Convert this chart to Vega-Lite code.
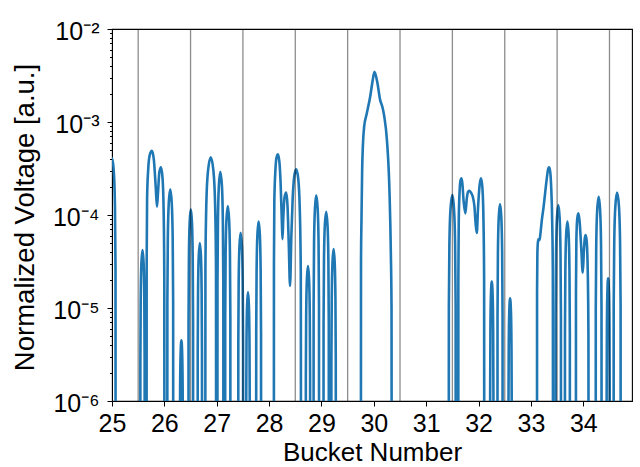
{
  "$schema": "https://vega.github.io/schema/vega-lite/v6.json",
  "width": 520,
  "height": 372,
  "autosize": {"type": "none"},
  "padding": {"left": 112, "top": 29, "right": 8, "bottom": 66},
  "background": "white",
  "config": {
    "font": "Liberation Sans",
    "view": {"stroke": "black", "strokeWidth": 1.1},
    "axis": {"grid": false, "domainColor": "black", "tickColor": "black", "labelColor": "black", "titleColor": "black", "labelFont": "Liberation Sans", "titleFont": "Liberation Sans", "titleFontWeight": "normal"}
  },
  "datasets": {
    "curve": [
      {"x":24.93,"v":3.0e-4},{"x":24.97,"v":3.9e-4},{"x":25.0,"v":4.1e-4},{"x":25.035,"v":2.9e-4},{"x":25.056,"v":1.27e-4},{"x":25.067,"v":2.6e-5},{"x":25.07,"v":1e-9},
      {"x":25.54,"v":1e-9},{"x":25.5417,"v":2.6e-6},{"x":25.5485,"v":1.3e-5},{"x":25.561,"v":3.0e-5},{"x":25.583,"v":4.2e-5},{"x":25.604,"v":3.0e-5},{"x":25.6165,"v":1.3e-5},{"x":25.6233,"v":2.6e-6},{"x":25.625,"v":1e-9},
      {"x":25.66,"v":1e-9},{"x":25.662,"v":3e-5},{"x":25.67,"v":1.5e-4},{"x":25.69,"v":3.0e-4},{"x":25.72,"v":4.4e-4},{"x":25.763,"v":4.9e-4},{"x":25.8,"v":3.9e-4},{"x":25.835,"v":2.0e-4},{"x":25.859,"v":1.23e-4},{"x":25.88,"v":1.8e-4},{"x":25.905,"v":2.9e-4},{"x":25.935,"v":3.26e-4},{"x":25.965,"v":2.5e-4},{"x":25.985,"v":1.2e-4},{"x":25.998,"v":2.5e-5},{"x":26.004,"v":1e-9},
      {"x":26.055,"v":1e-9},{"x":26.0573,"v":1.2e-5},{"x":26.0665,"v":5.9e-5},{"x":26.084,"v":1.34e-4},{"x":26.1125,"v":1.89e-4},{"x":26.141,"v":1.34e-4},{"x":26.1585,"v":5.9e-5},{"x":26.1677,"v":1.2e-5},{"x":26.17,"v":1e-9},
      {"x":26.295,"v":1e-9},{"x":26.2962,"v":2.8e-7},{"x":26.301,"v":1.4e-6},{"x":26.31,"v":3.2e-6},{"x":26.325,"v":4.5e-6},{"x":26.34,"v":3.2e-6},{"x":26.349,"v":1.4e-6},{"x":26.3538,"v":2.8e-7},{"x":26.355,"v":1e-9},
      {"x":26.46,"v":1e-9},{"x":26.4618,"v":7.2e-6},{"x":26.469,"v":3.6e-5},{"x":26.4825,"v":8.2e-5},{"x":26.505,"v":1.15e-4},{"x":26.5275,"v":8.2e-5},{"x":26.541,"v":3.6e-5},{"x":26.5482,"v":7.2e-6},{"x":26.55,"v":1e-9},
      {"x":26.635,"v":1e-9},{"x":26.6367,"v":3.2e-6},{"x":26.6435,"v":1.55e-5},{"x":26.656,"v":3.55e-5},{"x":26.678,"v":5.0e-5},{"x":26.699,"v":3.55e-5},{"x":26.7115,"v":1.55e-5},{"x":26.7183,"v":3.2e-6},{"x":26.72,"v":1e-9},
      {"x":26.78,"v":1e-9},{"x":26.784,"v":2.6e-5},{"x":26.801,"v":1.3e-4},{"x":26.8325,"v":2.96e-4},{"x":26.886,"v":4.17e-4},{"x":26.9375,"v":2.96e-4},{"x":26.969,"v":1.3e-4},{"x":26.986,"v":2.6e-5},{"x":26.99,"v":1e-9},
      {"x":27.012,"v":1e-9},{"x":27.0143,"v":1.84e-5},{"x":27.0236,"v":9.0e-5},{"x":27.041,"v":2.07e-4},{"x":27.068,"v":2.92e-4},{"x":27.099,"v":2.07e-4},{"x":27.1164,"v":9.0e-5},{"x":27.1257,"v":1.84e-5},{"x":27.128,"v":1e-9},
      {"x":27.16,"v":1e-9},{"x":27.162,"v":7.9e-6},{"x":27.17,"v":3.9e-5},{"x":27.1855,"v":8.9e-5},{"x":27.212,"v":1.25e-4},{"x":27.2365,"v":8.9e-5},{"x":27.252,"v":3.9e-5},{"x":27.26,"v":7.9e-6},{"x":27.262,"v":1e-9},
      {"x":27.41,"v":1e-9},{"x":27.4119,"v":4.1e-6},{"x":27.4195,"v":2.0e-5},{"x":27.434,"v":4.6e-5},{"x":27.456,"v":6.45e-5},{"x":27.481,"v":4.6e-5},{"x":27.4955,"v":2.0e-5},{"x":27.5031,"v":4.1e-6},{"x":27.505,"v":1e-9},
      {"x":27.562,"v":1e-9},{"x":27.5634,"v":9.3e-7},{"x":27.569,"v":4.6e-6},{"x":27.5795,"v":1.05e-5},{"x":27.597,"v":1.48e-5},{"x":27.6145,"v":1.05e-5},{"x":27.625,"v":4.6e-6},{"x":27.6306,"v":9.3e-7},{"x":27.632,"v":1e-9},
      {"x":27.752,"v":1e-9},{"x":27.7539,"v":5.4e-6},{"x":27.7616,"v":2.6e-5},{"x":27.776,"v":6.0e-5},{"x":27.8,"v":8.5e-5},{"x":27.824,"v":6.0e-5},{"x":27.8384,"v":2.6e-5},{"x":27.8461,"v":5.4e-6},{"x":27.848,"v":1e-9},
      {"x":28.09,"v":1e-9},{"x":28.0925,"v":3e-5},{"x":28.1,"v":1.4e-4},{"x":28.12,"v":3.0e-4},{"x":28.14,"v":4.1e-4},{"x":28.168,"v":4.5e-4},{"x":28.195,"v":3.8e-4},{"x":28.22,"v":2.2e-4},{"x":28.245,"v":8e-5},{"x":28.256,"v":5.5e-5},{"x":28.27,"v":9e-5},{"x":28.295,"v":1.55e-4},{"x":28.326,"v":1.74e-4},{"x":28.35,"v":1.3e-4},{"x":28.375,"v":5e-5},{"x":28.4,"v":1.73e-5},{"x":28.425,"v":6e-5},{"x":28.45,"v":1.5e-4},{"x":28.48,"v":2.6e-4},{"x":28.517,"v":3.1e-4},{"x":28.555,"v":2.5e-4},{"x":28.585,"v":1.2e-4},{"x":28.605,"v":2.5e-5},{"x":28.613,"v":1e-9},
      {"x":28.7,"v":1e-9},{"x":28.7017,"v":1.8e-6},{"x":28.7085,"v":8.8e-6},{"x":28.721,"v":2.0e-5},{"x":28.742,"v":2.83e-5},{"x":28.764,"v":2.0e-5},{"x":28.7765,"v":8.8e-6},{"x":28.7833,"v":1.8e-6},{"x":28.785,"v":1e-9},
      {"x":28.848,"v":1e-9},{"x":28.8501,"v":1.03e-5},{"x":28.8587,"v":5.1e-5},{"x":28.875,"v":1.16e-4},{"x":28.9,"v":1.63e-4},{"x":28.928,"v":1.16e-4},{"x":28.9443,"v":5.1e-5},{"x":28.9529,"v":1.03e-5},{"x":28.955,"v":1e-9},
      {"x":29.038,"v":1e-9},{"x":29.0401,"v":6.8e-6},{"x":29.0484,"v":3.35e-5},{"x":29.064,"v":7.7e-5},{"x":29.09,"v":1.08e-4},{"x":29.116,"v":7.7e-5},{"x":29.1316,"v":3.35e-5},{"x":29.1399,"v":6.8e-6},{"x":29.142,"v":1e-9},
      {"x":29.188,"v":1e-9},{"x":29.1897,"v":2.7e-6},{"x":29.1967,"v":1.33e-5},{"x":29.21,"v":3.05e-5},{"x":29.232,"v":4.3e-5},{"x":29.253,"v":3.05e-5},{"x":29.2663,"v":1.33e-5},{"x":29.2733,"v":2.7e-6},{"x":29.275,"v":1e-9},
      {"x":29.752,"v":1e-9},{"x":29.755,"v":3e-5},{"x":29.764,"v":8.9e-5},{"x":29.777,"v":3.05e-4},{"x":29.79,"v":5.4e-4},{"x":29.815,"v":8.9e-4},{"x":29.866,"v":1.24e-3},{"x":29.93,"v":1.87e-3},{"x":29.974,"v":2.71e-3},{"x":30.012,"v":3.47e-3},{"x":30.07,"v":2.6e-3},{"x":30.12,"v":1.73e-3},{"x":30.165,"v":1.44e-3},{"x":30.2,"v":1.14e-3},{"x":30.25,"v":6.4e-4},{"x":30.3,"v":1.7e-4},{"x":30.325,"v":3.9e-5},{"x":30.338,"v":1e-5},{"x":30.343,"v":1e-9},
      {"x":31.43,"v":1e-9},{"x":31.4327,"v":1.03e-5},{"x":31.4435,"v":5.1e-5},{"x":31.464,"v":1.16e-4},{"x":31.5,"v":1.64e-4},{"x":31.531,"v":1.16e-4},{"x":31.5515,"v":5.1e-5},{"x":31.5623,"v":1.03e-5},{"x":31.565,"v":1e-9},
      {"x":31.612,"v":1e-9},{"x":31.614,"v":2e-5},{"x":31.622,"v":9e-5},{"x":31.638,"v":1.8e-4},{"x":31.655,"v":2.35e-4},{"x":31.672,"v":2.48e-4},{"x":31.69,"v":2.2e-4},{"x":31.715,"v":1.4e-4},{"x":31.748,"v":1.04e-4},{"x":31.775,"v":1.5e-4},{"x":31.8,"v":1.78e-4},{"x":31.825,"v":1.82e-4},{"x":31.86,"v":1.72e-4},{"x":31.89,"v":1.57e-4},{"x":31.92,"v":1.25e-4},{"x":31.945,"v":8e-5},{"x":31.966,"v":6.4e-5},{"x":31.99,"v":1.2e-4},{"x":32.02,"v":2.1e-4},{"x":32.048,"v":2.48e-4},{"x":32.075,"v":1.9e-4},{"x":32.095,"v":8e-5},{"x":32.106,"v":2e-5},{"x":32.11,"v":1e-9},
      {"x":32.22,"v":1e-9},{"x":32.2213,"v":1.2e-6},{"x":32.2265,"v":5.9e-6},{"x":32.236,"v":1.36e-5},{"x":32.252,"v":1.92e-5},{"x":32.269,"v":1.36e-5},{"x":32.2785,"v":5.9e-6},{"x":32.2837,"v":1.2e-6},{"x":32.285,"v":1e-9},
      {"x":32.36,"v":1e-9},{"x":32.362,"v":8.3e-6},{"x":32.37,"v":4.1e-5},{"x":32.385,"v":9.3e-5},{"x":32.41,"v":1.31e-4},{"x":32.435,"v":9.3e-5},{"x":32.45,"v":4.1e-5},{"x":32.458,"v":8.3e-6},{"x":32.46,"v":1e-9},
      {"x":32.57,"v":1e-9},{"x":32.5713,"v":8e-7},{"x":32.5765,"v":3.9e-6},{"x":32.586,"v":9.0e-6},{"x":32.602,"v":1.27e-5},{"x":32.619,"v":9.0e-6},{"x":32.6285,"v":3.9e-6},{"x":32.6337,"v":8e-7},{"x":32.635,"v":1e-9},
      {"x":33.115,"v":1e-9},{"x":33.117,"v":1.5e-5},{"x":33.123,"v":3.8e-5},{"x":33.135,"v":5.2e-5},{"x":33.15,"v":5.5e-5},{"x":33.165,"v":5.4e-5},{"x":33.18,"v":6.2e-5},{"x":33.21,"v":9.0e-5},{"x":33.24,"v":1.2e-4},{"x":33.27,"v":1.7e-4},{"x":33.3,"v":2.4e-4},{"x":33.325,"v":3.05e-4},{"x":33.345,"v":3.26e-4},{"x":33.365,"v":3.0e-4},{"x":33.385,"v":2.1e-4},{"x":33.405,"v":9e-5},{"x":33.418,"v":2.5e-5},{"x":33.425,"v":1e-9},
      {"x":33.47,"v":1e-9},{"x":33.4721,"v":8.1e-6},{"x":33.4805,"v":4.0e-5},{"x":33.496,"v":9.1e-5},{"x":33.523,"v":1.28e-4},{"x":33.549,"v":9.1e-5},{"x":33.5645,"v":4.0e-5},{"x":33.5729,"v":8.1e-6},{"x":33.575,"v":1e-9},
      {"x":33.648,"v":1e-9},{"x":33.6499,"v":5.4e-6},{"x":33.6577,"v":2.6e-5},{"x":33.672,"v":6.0e-5},{"x":33.697,"v":8.5e-5},{"x":33.721,"v":6.0e-5},{"x":33.7353,"v":2.6e-5},{"x":33.7431,"v":5.4e-6},{"x":33.745,"v":1e-9},
      {"x":33.858,"v":1e-9},{"x":33.86,"v":1.5e-5},{"x":33.868,"v":5.5e-5},{"x":33.885,"v":9.2e-5},{"x":33.905,"v":1.04e-4},{"x":33.93,"v":8.5e-5},{"x":33.96,"v":4.5e-5},{"x":33.99,"v":2.4e-5},{"x":34.01,"v":4.0e-5},{"x":34.03,"v":5.7e-5},{"x":34.046,"v":6.1e-5},{"x":34.065,"v":5.2e-5},{"x":34.085,"v":2.5e-5},{"x":34.098,"v":5e-6},{"x":34.103,"v":1e-9},
      {"x":34.236,"v":1e-9},{"x":34.2383,"v":9.9e-6},{"x":34.2474,"v":4.9e-5},{"x":34.2645,"v":1.11e-4},{"x":34.294,"v":1.57e-4},{"x":34.3215,"v":1.11e-4},{"x":34.3386,"v":4.9e-5},{"x":34.3477,"v":9.9e-6},{"x":34.35,"v":1e-9},
      {"x":34.445,"v":1e-9},{"x":34.4462,"v":1.3e-6},{"x":34.451,"v":6.4e-6},{"x":34.46,"v":1.48e-5},{"x":34.473,"v":2.08e-5},{"x":34.49,"v":1.48e-5},{"x":34.499,"v":6.4e-6},{"x":34.5038,"v":1.3e-6},{"x":34.505,"v":1e-9},
      {"x":34.578,"v":1e-9},{"x":34.5807,"v":1.1e-5},{"x":34.5917,"v":5.4e-5},{"x":34.612,"v":1.24e-4},{"x":34.645,"v":1.74e-4},{"x":34.681,"v":1.24e-4},{"x":34.7013,"v":5.4e-5},{"x":34.7123,"v":1.1e-5},{"x":34.715,"v":1e-9}
    ],
    "sep": [
      {"x":25.5},{"x":26.5},{"x":27.5},{"x":28.5},{"x":29.5},{"x":30.5},{"x":31.5},{"x":32.5},{"x":33.5},{"x":34.5}
    ]
  },
  "layer": [
    {
      "data": {"name": "curve"},
      "mark": {"type": "line", "clip": true, "color": "#1f77b4", "strokeWidth": 2.6, "interpolate": "monotone", "strokeJoin": "round"},
      "encoding": {
        "x": {
          "field": "x", "type": "quantitative",
          "scale": {"domain": [25, 34.93], "nice": false, "zero": false},
          "axis": {
            "title": "Bucket Number", "titleFontSize": 26, "titleY": 59, "titleBaseline": "alphabetic",
            "values": [25, 26, 27, 28, 29, 30, 31, 32, 33, 34], "format": "d",
            "labelFontSize": 25, "labelPadding": 5, "tickSize": 5, "tickWidth": 1, "labelOverlap": false, "labelFlush": false
          }
        },
        "y": {
          "field": "v", "type": "quantitative",
          "scale": {"type": "log", "domain": [1e-6, 1e-2], "nice": false},
          "axis": {
            "title": "Normalized Voltage [a.u.]", "titleFontSize": 27.5, "titleX": -79, "titleY": 188, "titleBaseline": "alphabetic",
            "values": [1e-6, 2e-6, 3e-6, 4e-6, 5e-6, 6e-6, 7e-6, 8e-6, 9e-6, 1e-5, 2e-5, 3e-5, 4e-5, 5e-5, 6e-5, 7e-5, 8e-5, 9e-5, 1e-4, 2e-4, 3e-4, 4e-4, 5e-4, 6e-4, 7e-4, 8e-4, 9e-4, 1e-3, 2e-3, 3e-3, 4e-3, 5e-3, 6e-3, 7e-3, 8e-3, 9e-3, 1e-2],
            "labelExpr": "abs(log(datum.value)/LN10 - round(log(datum.value)/LN10)) < 0.001 ? '10⁻' + ['⁰','¹','²','³','⁴','⁵','⁶','⁷'][-round(log(datum.value)/LN10)] : ''",
            "labelFontSize": 25, "labelPadding": 8, "labelOffset": 2, "labelOverlap": false, "labelFlush": false,
            "tickWidth": 1,
            "tickSize": {"condition": {"test": "abs(log(datum.value)/LN10 - round(log(datum.value)/LN10)) < 0.001", "value": 5}, "value": 2.5}
          }
        }
      }
    },
    {
      "data": {"name": "sep"},
      "mark": {"type": "rule", "color": "black", "opacity": 0.45, "strokeWidth": 1.3},
      "encoding": {"x": {"field": "x", "type": "quantitative"}}
    }
  ]
}
